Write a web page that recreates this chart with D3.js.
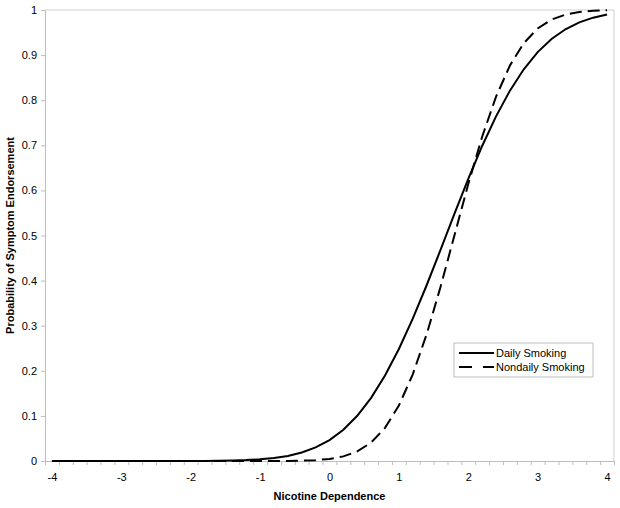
<!DOCTYPE html>
<html lang="en">
<head>
<meta charset="UTF-8">
<script src="https://cdn.jsdelivr.net/npm/d3@7"></script>
<title>Symptom Endorsement</title>
<style>
  body { margin: 0; background: #fff; }
  svg { font-family: "Liberation Sans", Arial, sans-serif; }
  .axis path, .axis line { stroke: #bdbdbd; }
  .axis text { font-size: 11px; fill: #000; }
  .title { font-size: 11px; font-weight: bold; }
  .legend text { font-size: 11px; }
</style>
</head>
<body>
<svg width="620" height="508"></svg>
<script>
// categories (nicotine dependence levels)
const xValues = [-4, -3.8, -3.6, -3.4, -3.2, -3, -2.8, -2.6, -2.4, -2.2,
                 -2, -1.8, -1.6, -1.4, -1.2, -1, -0.8, -0.6, -0.4, -0.2,
                 0, 0.2, 0.4, 0.6, 0.8, 1, 1.2, 1.4, 1.6, 1.8,
                 2, 2.2, 2.4, 2.6, 2.8, 3, 3.2, 3.4, 3.6, 3.8, 4];
const daily = [0, 0, 0, 0, 0, 0, 0, 0, 0, 0.00002,
               0.00005, 0.00025, 0.0005, 0.001, 0.002, 0.0037, 0.0066, 0.0113, 0.0188, 0.0301,
               0.0465, 0.0694, 0.1003, 0.1401, 0.1894, 0.2483, 0.3156, 0.3897, 0.4681, 0.5478,
               0.6255, 0.6985, 0.7642, 0.8212, 0.8686, 0.9066, 0.9357, 0.9573, 0.9726, 0.983, 0.9898];
const nondaily = [0, 0, 0, 0, 0, 0, 0, 0, 0, 0,
                  0, 0, 0, 0, 0, 0.00002, 0.00008, 0.00025, 0.0007, 0.0019,
                  0.0045, 0.0102, 0.0212, 0.0409, 0.0735, 0.123, 0.1922, 0.281, 0.3859, 0.5,
                  0.6141, 0.719, 0.8078, 0.877, 0.9265, 0.9591, 0.9788, 0.9898, 0.9955, 0.9981, 0.9993];
const xTickLabels = [-4, -3, -2, -1, 0, 1, 2, 3, 4];
const yTickLabels = [0, 0.1, 0.2, 0.3, 0.4, 0.5, 0.6, 0.7, 0.8, 0.9, 1];
const seriesNames = ["Daily Smoking", "Nondaily Smoking"];

const svg = d3.select("svg");
const plotL = 45, plotR = 614, plotT = 10, plotB = 461;
const step = 0.2;

const x = d3.scaleLinear().domain([-4 - step / 2, 4 + step / 2]).range([plotL, plotR]);
const y = d3.scaleLinear().domain([0, 1]).range([plotB, plotT]);

// plot area frame (top / right)
svg.append("path")
    .attr("d", `M${plotL},${plotT}H${plotR}V${plotB}`)
    .attr("fill", "none").attr("stroke", "#cfcfcf");

// y axis
svg.append("g").attr("class", "axis")
    .attr("transform", `translate(${plotL},0)`)
    .call(d3.axisLeft(y).tickValues(yTickLabels).tickSize(4).tickPadding(4)
        .tickFormat(d => String(d)));

// x axis: tick marks at category boundaries, labels at integers
const bounds = xValues.map(v => v - step / 2).concat([4 + step / 2]);
svg.append("g").attr("class", "axis")
    .attr("transform", `translate(0,${plotB})`)
    .call(d3.axisBottom(x).tickValues(bounds).tickSize(4).tickFormat(""));
svg.append("g").attr("class", "axis")
    .attr("transform", `translate(0,${plotB})`)
    .call(d3.axisBottom(x).tickValues(xTickLabels).tickSize(0).tickPadding(12)
        .tickFormat(d => String(d)))
    .call(g => g.select(".domain").remove());

// lines
const line = d3.line().x((d, i) => x(xValues[i])).y(d => y(d));
svg.append("path").datum(daily)
    .attr("d", line).attr("fill", "none")
    .attr("stroke", "#000").attr("stroke-width", 2);
svg.append("path").datum(nondaily)
    .attr("d", line).attr("fill", "none")
    .attr("stroke", "#000").attr("stroke-width", 2)
    .attr("stroke-dasharray", "12,6");

// axis titles
svg.append("text").attr("class", "title")
    .attr("x", (plotL + plotR) / 2).attr("y", 500)
    .attr("text-anchor", "middle")
    .text("Nicotine Dependence");
svg.append("text").attr("class", "title")
    .attr("transform", `translate(14,${(plotT + plotB) / 2}) rotate(-90)`)
    .attr("text-anchor", "middle")
    .text("Probability of Symptom Endorsement");

// legend
const lg = svg.append("g").attr("class", "legend").attr("transform", "translate(454,343)");
lg.append("rect").attr("width", 139).attr("height", 34)
    .attr("fill", "#fff").attr("stroke", "#bdbdbd");
seriesNames.forEach((name, i) => {
    const yy = 10 + i * 14;
    lg.append("line").attr("x1", 5).attr("x2", 40).attr("y1", yy).attr("y2", yy)
        .attr("stroke", "#000").attr("stroke-width", 2)
        .attr("stroke-dasharray", i === 1 ? "13,11" : null);
    lg.append("text").attr("x", 42).attr("y", yy + 4).text(name);
});
</script>
</body>
</html>
